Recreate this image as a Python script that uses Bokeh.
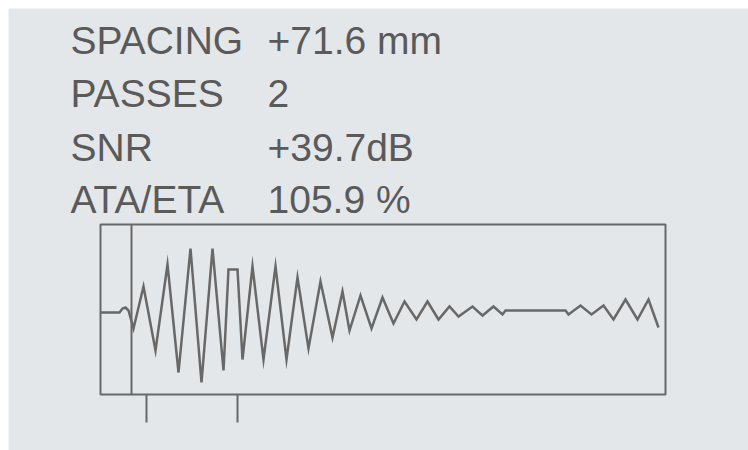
from bokeh.plotting import figure
from bokeh.models import ColumnDataSource, BoxAnnotation, Range1d
from bokeh.core.properties import value
from bokeh.embed import file_html
from bokeh.resources import INLINE

# ---- readout text ----
field_names = ["SPACING", "PASSES", "SNR", "ATA/ETA"]
field_values = ["+71.6 mm", "2", "+39.7dB", "105.9 %"]

# ---- waveform (sample index, amplitude) ----
sample_x = [0, 19, 22, 25, 28, 33, 43, 55, 67, 78, 90, 101, 112, 123, 128, 137,
            142, 152, 163, 175, 186, 197, 208, 220, 232, 242, 249, 260, 271, 282,
            293, 304, 316, 327, 338, 349, 358, 372, 382, 393, 402, 405, 465, 468,
            480, 491, 503, 513, 525, 537, 548, 558]
amplitude = [0, 0, 4, 5, 2, -16, 26, -38, 48, -60, 64, -70, 64, -58, 43, 43,
             -47, 46, -47, 46, -47, 35, -36, 31, -25, 21, -18, 17, -16, 15,
             -11, 11, -7, 11, -7, 6, -4, 6, -3, 6, -2, 2, 2, -2,
             7, -2, 7, -7, 13, -7, 13, -15]

gate_start = 31
marker_positions = [46, 137]

# window of the trace display (sample / amplitude units)
WIN_X0, WIN_X1 = 0, 565
WIN_Y0, WIN_Y1 = -82, 88
MARK_LEN = 28

BG = "#e4e7ea"
INK = "#686868"
TXT = "#5a5a5a"

p = figure(width=740, height=442, output_backend="svg", toolbar_location=None,
           x_range=Range1d(-92, 648), y_range=Range1d(-138, 304),
           min_border=0, background_fill_color=BG, border_fill_color=BG,
           x_axis_type=None, y_axis_type=None, margin=(8, 0, 0, 8))
p.grid.visible = False
p.outline_line_color = None

# trace window
p.add_layout(BoxAnnotation(left=WIN_X0, right=WIN_X1, bottom=WIN_Y0, top=WIN_Y1,
                           fill_alpha=0, line_color=INK, line_alpha=1.0, line_width=2))
# gate line
p.segment(x0=[gate_start], y0=[WIN_Y0], x1=[gate_start], y1=[WIN_Y1],
          line_color=INK, line_width=2)
# marker ticks below window
p.segment(x0=marker_positions, y0=[WIN_Y0] * len(marker_positions),
          x1=marker_positions, y1=[WIN_Y0 - MARK_LEN] * len(marker_positions),
          line_color=INK, line_width=2)

p.line(sample_x, amplitude, line_color=INK, line_width=2.5, line_join="miter")

row_y = [272, 219, 165, 113]
src = ColumnDataSource(dict(
    x=[-30] * 4 + [167] * 4,
    y=row_y + row_y,
    t=field_names + field_values,
))
p.text(x="x", y="y", text="t", source=src, text_color=TXT,
       text_font=value("Liberation Sans"), text_font_size=value("39px"),
       text_baseline=value("alphabetic"))

open("out.html", "w").write(file_html(p, INLINE))
